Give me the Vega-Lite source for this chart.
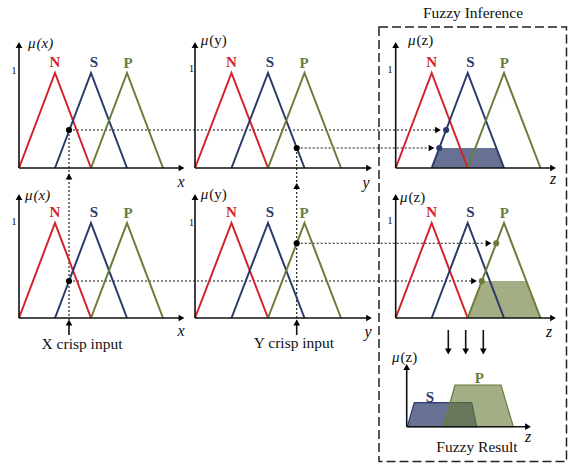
{
  "$schema": "https://vega.github.io/schema/vega-lite/v6.json",
  "width": 568,
  "height": 464,
  "autosize": {"type": "fit", "contains": "padding"},
  "padding": 0,
  "background": "white",
  "config": {"view": {"stroke": null}},
  "datasets": {
    "tri": [
      {"id": "1N", "set": "N", "x": 19, "y": 168}, {"id": "1N", "set": "N", "x": 55, "y": 73}, {"id": "1N", "set": "N", "x": 91, "y": 168},
      {"id": "1S", "set": "S", "x": 55, "y": 168}, {"id": "1S", "set": "S", "x": 91, "y": 73}, {"id": "1S", "set": "S", "x": 127, "y": 168},
      {"id": "1P", "set": "P", "x": 91, "y": 168}, {"id": "1P", "set": "P", "x": 127, "y": 73}, {"id": "1P", "set": "P", "x": 163, "y": 168},
      {"id": "2N", "set": "N", "x": 195, "y": 168}, {"id": "2N", "set": "N", "x": 231.5, "y": 73}, {"id": "2N", "set": "N", "x": 268, "y": 168},
      {"id": "2S", "set": "S", "x": 231.5, "y": 168}, {"id": "2S", "set": "S", "x": 268, "y": 73}, {"id": "2S", "set": "S", "x": 304.5, "y": 168},
      {"id": "2P", "set": "P", "x": 268, "y": 168}, {"id": "2P", "set": "P", "x": 304.5, "y": 73}, {"id": "2P", "set": "P", "x": 341, "y": 168},
      {"id": "3N", "set": "N", "x": 395.7, "y": 168}, {"id": "3N", "set": "N", "x": 431.7, "y": 73}, {"id": "3N", "set": "N", "x": 467.7, "y": 168},
      {"id": "3S", "set": "S", "x": 431.7, "y": 168}, {"id": "3S", "set": "S", "x": 467.7, "y": 73}, {"id": "3S", "set": "S", "x": 504, "y": 168},
      {"id": "3P", "set": "P", "x": 467.7, "y": 168}, {"id": "3P", "set": "P", "x": 504, "y": 73}, {"id": "3P", "set": "P", "x": 540.5, "y": 168},
      {"id": "4N", "set": "N", "x": 19, "y": 318}, {"id": "4N", "set": "N", "x": 55, "y": 223}, {"id": "4N", "set": "N", "x": 91, "y": 318},
      {"id": "4S", "set": "S", "x": 55, "y": 318}, {"id": "4S", "set": "S", "x": 91, "y": 223}, {"id": "4S", "set": "S", "x": 127, "y": 318},
      {"id": "4P", "set": "P", "x": 91, "y": 318}, {"id": "4P", "set": "P", "x": 127, "y": 223}, {"id": "4P", "set": "P", "x": 163, "y": 318},
      {"id": "5N", "set": "N", "x": 195, "y": 318}, {"id": "5N", "set": "N", "x": 231.5, "y": 223}, {"id": "5N", "set": "N", "x": 268, "y": 318},
      {"id": "5S", "set": "S", "x": 231.5, "y": 318}, {"id": "5S", "set": "S", "x": 268, "y": 223}, {"id": "5S", "set": "S", "x": 304.5, "y": 318},
      {"id": "5P", "set": "P", "x": 268, "y": 318}, {"id": "5P", "set": "P", "x": 304.5, "y": 223}, {"id": "5P", "set": "P", "x": 341, "y": 318},
      {"id": "6N", "set": "N", "x": 395.7, "y": 318}, {"id": "6N", "set": "N", "x": 431.7, "y": 223}, {"id": "6N", "set": "N", "x": 467.7, "y": 318},
      {"id": "6S", "set": "S", "x": 431.7, "y": 318}, {"id": "6S", "set": "S", "x": 467.7, "y": 223}, {"id": "6S", "set": "S", "x": 504, "y": 318},
      {"id": "6P", "set": "P", "x": 467.7, "y": 318}, {"id": "6P", "set": "P", "x": 504, "y": 223}, {"id": "6P", "set": "P", "x": 540.5, "y": 318}
    ],
    "fills": [
      {"id": "3S", "x": 431.7, "top": 168, "base": 168}, {"id": "3S", "x": 439.3, "top": 148, "base": 168}, {"id": "3S", "x": 496.4, "top": 148, "base": 168}, {"id": "3S", "x": 504, "top": 168, "base": 168},
      {"id": "6P", "x": 467.7, "top": 318, "base": 318}, {"id": "6P", "x": 481.8, "top": 281, "base": 318}, {"id": "6P", "x": 526.4, "top": 281, "base": 318}, {"id": "6P", "x": 540.5, "top": 318, "base": 318},
      {"id": "RS", "x": 407.3, "top": 426.7, "base": 426.7}, {"id": "RS", "x": 414.3, "top": 402.7, "base": 426.7}, {"id": "RS", "x": 471.7, "top": 402.7, "base": 426.7}, {"id": "RS", "x": 476.7, "top": 426.7, "base": 426.7},
      {"id": "RP", "x": 443.3, "top": 426.7, "base": 426.7}, {"id": "RP", "x": 455, "top": 385, "base": 426.7}, {"id": "RP", "x": 501, "top": 385, "base": 426.7}, {"id": "RP", "x": 513.3, "top": 426.7, "base": 426.7}
    ],
    "axes": [
      {"x": 19, "y": 168, "x2": 19, "y2": 46}, {"x": 19, "y": 168, "x2": 181, "y2": 168},
      {"x": 195, "y": 168, "x2": 195, "y2": 46}, {"x": 195, "y": 168, "x2": 369, "y2": 168},
      {"x": 395.7, "y": 168, "x2": 395.7, "y2": 46}, {"x": 395.7, "y": 168, "x2": 553, "y2": 168},
      {"x": 19, "y": 318, "x2": 19, "y2": 198}, {"x": 19, "y": 318, "x2": 181, "y2": 318},
      {"x": 195, "y": 318, "x2": 195, "y2": 198}, {"x": 195, "y": 318, "x2": 369, "y2": 318},
      {"x": 395.7, "y": 318, "x2": 395.7, "y2": 198}, {"x": 395.7, "y": 318, "x2": 553, "y2": 318},
      {"x": 406.7, "y": 426.7, "x2": 406.7, "y2": 368}, {"x": 406.7, "y": 426.7, "x2": 528, "y2": 426.7},
      {"x": 69, "y": 324, "x2": 69, "y2": 335}, {"x": 296.7, "y": 324, "x2": 296.7, "y2": 335},
      {"x": 448.3, "y": 330, "x2": 448.3, "y2": 350}, {"x": 465.7, "y": 330, "x2": 465.7, "y2": 350}, {"x": 483.3, "y": 330, "x2": 483.3, "y2": 350}
    ],
    "heads": [
      {"x": 19, "y": 45, "dir": "up"}, {"x": 195, "y": 45, "dir": "up"}, {"x": 395.7, "y": 45, "dir": "up"},
      {"x": 19, "y": 197, "dir": "up"}, {"x": 195, "y": 197, "dir": "up"}, {"x": 395.7, "y": 197, "dir": "up"},
      {"x": 181.5, "y": 168, "dir": "right"}, {"x": 369, "y": 168, "dir": "right"}, {"x": 553, "y": 168, "dir": "right"},
      {"x": 181.5, "y": 318, "dir": "right"}, {"x": 369, "y": 318, "dir": "right"}, {"x": 553, "y": 318, "dir": "right"},
      {"x": 406.7, "y": 367, "dir": "up"}, {"x": 528, "y": 426.7, "dir": "right"},
      {"x": 438, "y": 130, "dir": "right"}, {"x": 431.5, "y": 148, "dir": "right"},
      {"x": 474, "y": 281, "dir": "right"}, {"x": 488.5, "y": 243.3, "dir": "right"},
      {"x": 69, "y": 176.5, "dir": "up"}, {"x": 296.7, "y": 186, "dir": "up"},
      {"x": 69, "y": 322.5, "dir": "up"}, {"x": 296.7, "y": 322.5, "dir": "up"},
      {"x": 448.3, "y": 351.5, "dir": "down"}, {"x": 465.7, "y": 351.5, "dir": "down"}, {"x": 483.3, "y": 351.5, "dir": "down"}
    ],
    "dotted": [
      {"x": 69, "y": 130, "x2": 435, "y2": 130},
      {"x": 296.7, "y": 148, "x2": 428, "y2": 148},
      {"x": 69, "y": 130, "x2": 69, "y2": 322},
      {"x": 296.7, "y": 148, "x2": 296.7, "y2": 322},
      {"x": 69, "y": 281, "x2": 471, "y2": 281},
      {"x": 296.7, "y": 243.3, "x2": 485, "y2": 243.3}
    ],
    "dots": [
      {"x": 69, "y": 130, "set": "K"}, {"x": 296.7, "y": 148, "set": "K"}, {"x": 69, "y": 281, "set": "K"}, {"x": 296.7, "y": 243.3, "set": "K"},
      {"x": 446.1, "y": 130, "set": "S"}, {"x": 439.3, "y": 148, "set": "S"},
      {"x": 496.2, "y": 243.3, "set": "P"}, {"x": 481.8, "y": 281, "set": "P"}
    ],
    "box": [{"x": 379, "y": 27, "x2": 566.5, "y2": 461.5}],
    "letters": [
      {"t": "N", "x": 55, "y": 62}, {"t": "S", "x": 94, "y": 62}, {"t": "P", "x": 128, "y": 63},
      {"t": "N", "x": 231.5, "y": 62}, {"t": "S", "x": 270, "y": 62}, {"t": "P", "x": 304, "y": 63},
      {"t": "N", "x": 431.7, "y": 62}, {"t": "S", "x": 470.5, "y": 62}, {"t": "P", "x": 504.3, "y": 63},
      {"t": "N", "x": 55, "y": 212}, {"t": "S", "x": 94, "y": 212}, {"t": "P", "x": 128, "y": 213},
      {"t": "N", "x": 231.5, "y": 212}, {"t": "S", "x": 270, "y": 212}, {"t": "P", "x": 304, "y": 213},
      {"t": "N", "x": 431.7, "y": 212}, {"t": "S", "x": 470.5, "y": 212}, {"t": "P", "x": 504.3, "y": 213},
      {"t": "S", "x": 430, "y": 396.7}, {"t": "P", "x": 479.3, "y": 377.7}
    ],
    "ones": [
      {"x": 14, "y": 71}, {"x": 191.5, "y": 69}, {"x": 390, "y": 70},
      {"x": 14, "y": 222}, {"x": 191.5, "y": 223}, {"x": 390, "y": 221}
    ],
    "mu": [
      {"x": 28, "y": 43, "v": "(x)"}, {"x": 200.7, "y": 40, "v": "(y)"}, {"x": 408, "y": 40, "v": "(z)"},
      {"x": 25, "y": 195, "v": "(x)"}, {"x": 200.7, "y": 194, "v": "(y)"}, {"x": 400, "y": 197, "v": "(z)"},
      {"x": 392, "y": 357, "v": "(z)"}
    ],
    "vars": [
      {"t": "x", "x": 181, "y": 182}, {"t": "x", "x": 181, "y": 331},
      {"t": "y", "x": 366, "y": 183}, {"t": "y", "x": 368, "y": 332},
      {"t": "z", "x": 553, "y": 179}, {"t": "z", "x": 549, "y": 332},
      {"t": "z", "x": 528, "y": 437}
    ],
    "captions": [
      {"t": "X crisp input", "x": 82, "y": 344},
      {"t": "Y crisp input", "x": 294, "y": 343},
      {"t": "Fuzzy Inference", "x": 473, "y": 13},
      {"t": "Fuzzy Result", "x": 477, "y": 447}
    ]
  },
  "layer": [
    {
      "data": {"name": "box"},
      "mark": {"type": "rect", "fill": null, "stroke": "#222222", "strokeWidth": 1.5, "strokeDash": [9, 4]},
      "encoding": {
        "x": {"field": "x", "type": "quantitative", "scale": {"domain": [0, 568], "nice": false, "zero": false}, "axis": null},
        "x2": {"field": "x2"},
        "y": {"field": "y", "type": "quantitative", "scale": {"domain": [0, 464], "nice": false, "zero": false, "reverse": true}, "axis": null},
        "y2": {"field": "y2"}
      }
    },
    {
      "data": {"name": "fills"},
      "transform": [{"filter": "datum.id === '3S'"}],
      "mark": {"type": "area", "fill": "#2b3a6b", "fillOpacity": 0.72},
      "encoding": {
        "x": {"field": "x", "type": "quantitative"},
        "y": {"field": "top", "type": "quantitative"},
        "y2": {"field": "base"}
      }
    },
    {
      "data": {"name": "fills"},
      "transform": [{"filter": "datum.id === '6P'"}],
      "mark": {"type": "area", "fill": "#6b7c3a", "fillOpacity": 0.62},
      "encoding": {
        "x": {"field": "x", "type": "quantitative"},
        "y": {"field": "top", "type": "quantitative"},
        "y2": {"field": "base"}
      }
    },
    {
      "data": {"name": "fills"},
      "transform": [{"filter": "datum.id === 'RS'"}],
      "mark": {"type": "area", "fill": "#2b3a6b", "fillOpacity": 0.72, "stroke": "#2b3a6b", "strokeWidth": 1.2},
      "encoding": {
        "x": {"field": "x", "type": "quantitative"},
        "y": {"field": "top", "type": "quantitative"},
        "y2": {"field": "base"}
      }
    },
    {
      "data": {"name": "fills"},
      "transform": [{"filter": "datum.id === 'RP'"}],
      "mark": {"type": "area", "fill": "#6b7c3a", "fillOpacity": 0.62, "stroke": "#6b7c3a", "strokeWidth": 1.2},
      "encoding": {
        "x": {"field": "x", "type": "quantitative"},
        "y": {"field": "top", "type": "quantitative"},
        "y2": {"field": "base"}
      }
    },
    {
      "data": {"name": "dotted"},
      "mark": {"type": "rule", "color": "#111111", "strokeWidth": 1.1, "strokeDash": [2, 2]},
      "encoding": {
        "x": {"field": "x", "type": "quantitative"},
        "x2": {"field": "x2"},
        "y": {"field": "y", "type": "quantitative"},
        "y2": {"field": "y2"}
      }
    },
    {
      "data": {"name": "tri"},
      "mark": {"type": "line", "strokeWidth": 2, "strokeJoin": "miter"},
      "encoding": {
        "x": {"field": "x", "type": "quantitative"},
        "y": {"field": "y", "type": "quantitative"},
        "detail": {"field": "id"},
        "order": {"field": "x"},
        "color": {"field": "set", "type": "nominal", "scale": {"domain": ["N", "S", "P", "K"], "range": ["#d2232a", "#2b3a6b", "#6b7c3a", "#000000"]}, "legend": null}
      }
    },
    {
      "data": {"name": "axes"},
      "mark": {"type": "rule", "color": "#111111", "strokeWidth": 1.6},
      "encoding": {
        "x": {"field": "x", "type": "quantitative"},
        "x2": {"field": "x2"},
        "y": {"field": "y", "type": "quantitative"},
        "y2": {"field": "y2"}
      }
    },
    {
      "data": {"name": "heads"},
      "mark": {"type": "point", "filled": true, "size": 45, "color": "#000000", "opacity": 1},
      "encoding": {
        "x": {"field": "x", "type": "quantitative"},
        "y": {"field": "y", "type": "quantitative"},
        "shape": {"field": "dir", "type": "nominal", "scale": {"domain": ["up", "right", "down"], "range": ["triangle-up", "triangle-right", "triangle-down"]}, "legend": null}
      }
    },
    {
      "data": {"name": "dots"},
      "mark": {"type": "circle", "size": 38, "opacity": 1},
      "encoding": {
        "x": {"field": "x", "type": "quantitative"},
        "y": {"field": "y", "type": "quantitative"},
        "color": {"field": "set", "type": "nominal", "legend": null}
      }
    },
    {
      "data": {"name": "letters"},
      "mark": {"type": "text", "font": "Liberation Serif", "fontSize": 15, "fontWeight": "bold", "baseline": "middle", "align": "center"},
      "encoding": {
        "x": {"field": "x", "type": "quantitative"},
        "y": {"field": "y", "type": "quantitative"},
        "text": {"field": "t"},
        "color": {"field": "t", "type": "nominal", "legend": null}
      }
    },
    {
      "data": {"name": "ones"},
      "mark": {"type": "text", "font": "Liberation Serif", "fontSize": 11, "baseline": "middle", "align": "center", "text": "1", "color": "#222222"},
      "encoding": {
        "x": {"field": "x", "type": "quantitative"},
        "y": {"field": "y", "type": "quantitative"}
      }
    },
    {
      "data": {"name": "mu"},
      "mark": {"type": "text", "font": "Liberation Serif", "fontSize": 15, "fontStyle": "italic", "baseline": "middle", "align": "left", "text": "μ", "color": "#111111"},
      "encoding": {
        "x": {"field": "x", "type": "quantitative"},
        "y": {"field": "y", "type": "quantitative"}
      }
    },
    {
      "data": {"name": "mu"},
      "transform": [{"filter": "datum.v === '(x)'"}],
      "mark": {"type": "text", "font": "Liberation Serif", "fontSize": 15, "fontStyle": "italic", "baseline": "middle", "align": "left", "dx": 8.5, "color": "#111111"},
      "encoding": {
        "x": {"field": "x", "type": "quantitative"},
        "y": {"field": "y", "type": "quantitative"},
        "text": {"field": "v"}
      }
    },
    {
      "data": {"name": "mu"},
      "transform": [{"filter": "datum.v !== '(x)'"}],
      "mark": {"type": "text", "font": "Liberation Serif", "fontSize": 15, "baseline": "middle", "align": "left", "dx": 8.5, "color": "#111111"},
      "encoding": {
        "x": {"field": "x", "type": "quantitative"},
        "y": {"field": "y", "type": "quantitative"},
        "text": {"field": "v"}
      }
    },
    {
      "data": {"name": "vars"},
      "mark": {"type": "text", "font": "Liberation Serif", "fontSize": 16, "fontStyle": "italic", "baseline": "middle", "align": "center", "color": "#111111"},
      "encoding": {
        "x": {"field": "x", "type": "quantitative"},
        "y": {"field": "y", "type": "quantitative"},
        "text": {"field": "t"}
      }
    },
    {
      "data": {"name": "captions"},
      "mark": {"type": "text", "font": "Liberation Serif", "fontSize": 15.5, "baseline": "middle", "align": "center", "color": "#111111"},
      "encoding": {
        "x": {"field": "x", "type": "quantitative"},
        "y": {"field": "y", "type": "quantitative"},
        "text": {"field": "t"}
      }
    }
  ]
}
